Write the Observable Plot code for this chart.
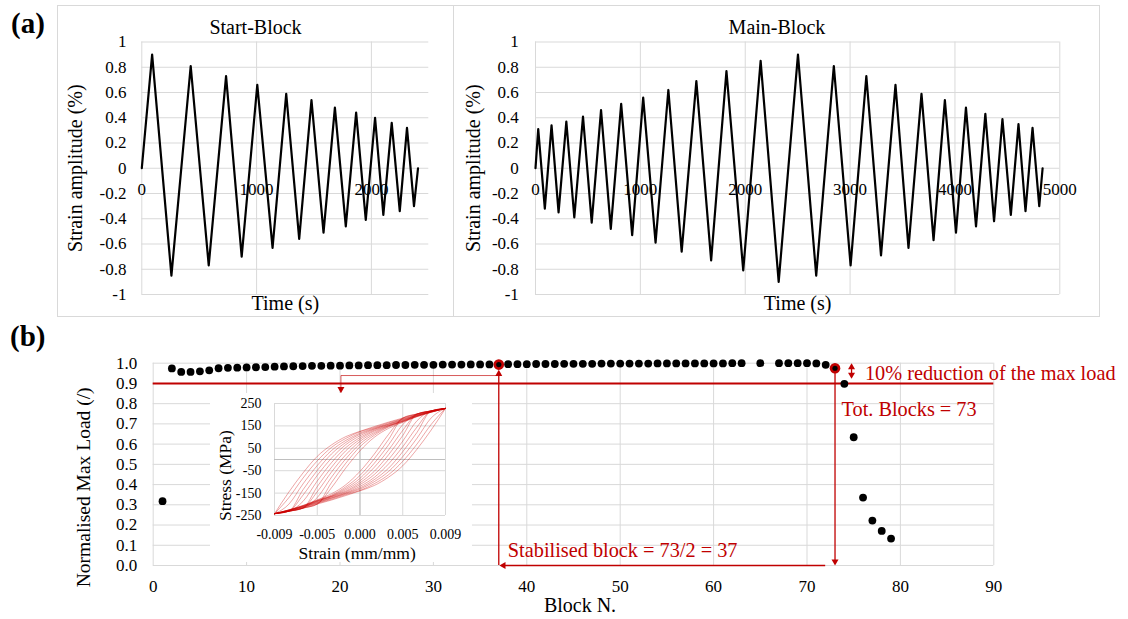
<!DOCTYPE html>
<html><head><meta charset="utf-8">
<script src="https://cdn.jsdelivr.net/npm/d3@7"></script>
<script src="https://cdn.jsdelivr.net/npm/@observablehq/plot@0.6"></script>
<style>
body{margin:0;background:#fff;}
#fig{position:relative;width:1128px;height:619px;overflow:hidden;font-family:"Liberation Serif","Times New Roman",serif;background:#fff;}
#fig > svg, #fig > div{position:absolute;}
#fig svg text{font-family:"Liberation Serif","Times New Roman",serif;}
.box{border:1px solid #d9d9d9;box-sizing:border-box;pointer-events:none;}
.plab{font-weight:bold;font-size:29px;line-height:28px;color:#000;}
</style></head><body><div id="fig"></div><script>
// ---------- Panel (a) data ----------
const startTime   = [0, 90, 258, 426, 583, 734, 870, 1006, 1139, 1258, 1371, 1478, 1583, 1682, 1777, 1867, 1951, 2032, 2104, 2177, 2247, 2310, 2371, 2406];
const startStrain = [0, 0.90, -0.85, 0.81, -0.77, 0.73, -0.70, 0.66, -0.63, 0.59, -0.56, 0.54, -0.51, 0.48, -0.46, 0.44, -0.41, 0.40, -0.37, 0.36, -0.34, 0.32, -0.30, 0];
const mainTime   = [0, 26, 89, 153, 220, 294, 370, 453, 536, 625, 718, 817, 922, 1027, 1145, 1267, 1394, 1534, 1675, 1821, 1981, 2147, 2319, 2503, 2677, 2845, 3005, 3155, 3295, 3433, 3557, 3681, 3796, 3904, 4010, 4105, 4201, 4290, 4373, 4453, 4533, 4606, 4673, 4740, 4804, 4836];
const mainStrain = [0, 0.31, -0.32, 0.34, -0.35, 0.37, -0.39, 0.41, -0.43, 0.46, -0.48, 0.51, -0.53, 0.56, -0.59, 0.62, -0.66, 0.69, -0.73, 0.77, -0.81, 0.85, -0.90, 0.90, -0.85, 0.81, -0.77, 0.73, -0.69, 0.66, -0.63, 0.59, -0.57, 0.54, -0.51, 0.48, -0.46, 0.43, -0.42, 0.39, -0.37, 0.35, -0.34, 0.32, -0.30, 0];
const strainTicks = [-1, -0.8, -0.6, -0.4, -0.2, 0, 0.2, 0.4, 0.6, 0.8, 1];
const startTimeTicks = [0, 1000, 2000];
const mainTimeTicks = [0, 1000, 2000, 3000, 4000, 5000];

// ---------- Panel (b) data ----------
const blockNo = [1,2,3,4,5,6,7,8,9,10,11,12,13,14,15,16,17,18,19,20,21,22,23,24,25,26,27,28,29,30,31,32,33,34,35,36,37,38,39,40,41,42,43,44,45,46,47,48,49,50,51,52,53,54,55,56,57,58,59,60,61,62,63,65,67,68,69,70,71,72,73,74,75,76,77,78,79];
const maxLoad = [0.318,0.974,0.957,0.957,0.960,0.965,0.975,0.977,0.978,0.979,0.980,0.981,0.983,0.984,0.985,0.986,0.987,0.987,0.988,0.988,0.989,0.989,0.990,0.990,0.990,0.991,0.991,0.992,0.992,0.992,0.993,0.993,0.993,0.994,0.994,0.994,0.993,0.995,0.995,0.995,0.996,0.996,0.996,0.997,0.997,0.997,0.997,0.998,0.998,0.998,0.998,0.998,0.998,0.999,0.999,0.999,0.999,0.999,0.999,0.999,0.999,1.000,1.000,1.000,1.000,1.000,1.000,1.000,0.999,0.992,0.975,0.898,0.634,0.336,0.222,0.171,0.133];
const loadTicks = [0, 0.1, 0.2, 0.3, 0.4, 0.5, 0.6, 0.7, 0.8, 0.9, 1.0];
const blockTicks = [0, 10, 20, 30, 40, 50, 60, 70, 80, 90];
const threshold = 0.9;
const totalBlocks = 73;
const stabilisedBlock = 37;

// ---------- Inset (hysteresis loops) ----------
const inStrain = [-0.009, -0.0075, -0.006, -0.0045, -0.003, -0.0015, 0, 0.0015, 0.003, 0.0045, 0.006, 0.0075, 0.009];
const inStrainTicks = [-0.009, -0.0045, 0, 0.0045, 0.009];
const inStrainLabels = ["-0.009", "-0.005", "0.000", "0.005", "0.009"];
const inStressTicks = [-250, -150, -50, 50, 150, 250];
const loopUp = [
  [-242,-146,-60,14,65,102,126,147,167,185,203,217,228],
  [-242,-171,-83,-6,54,94,124,143,164,182,201,216,228],
  [-242,-200,-109,-27,40,85,118,140,160,180,199,215,228],
  [-242,-231,-135,-49,25,76,113,137,158,178,198,214,228],
  [-242,-231,-159,-71,6,66,106,135,156,176,197,214,228],
  [-242,-231,-187,-96,-14,53,98,131,153,174,196,213,228],
  [-242,-231,-217,-121,-35,39,90,127,151,172,195,213,228],
  [-242,-231,-217,-144,-56,21,81,121,150,171,194,212,228],
  [-242,-231,-217,-170,-79,3,70,115,148,170,193,212,228],
  [-242,-231,-217,-199,-103,-17,57,108,145,168,192,211,228],
  [-242,-231,-217,-199,-126,-38,39,99,139,166,191,211,228]
];
const loopDown = [
  [-242,-231,-217,-199,-181,-161,-140,-116,-79,-28,46,132,228],
  [-242,-230,-215,-196,-178,-157,-138,-108,-68,-8,69,157,228],
  [-242,-229,-213,-194,-174,-154,-132,-99,-54,13,95,186,228],
  [-242,-228,-212,-192,-172,-151,-127,-90,-39,35,121,217,228],
  [-242,-228,-211,-190,-170,-149,-120,-80,-20,57,145,217,228],
  [-242,-227,-210,-188,-167,-145,-112,-67,0,82,173,217,228],
  [-242,-227,-209,-186,-165,-141,-104,-53,21,107,203,217,228],
  [-242,-226,-208,-185,-164,-135,-95,-35,42,130,203,217,228],
  [-242,-226,-207,-184,-162,-129,-84,-17,65,156,203,217,228],
  [-242,-225,-206,-182,-159,-122,-71,3,89,185,203,217,228],
  [-242,-225,-205,-180,-153,-113,-53,24,112,185,203,217,228]
];

// ---------- styling ----------
const serif = '"Liberation Serif", "Times New Roman", serif';
const RED = "#c00000";
const GRID = "#d9d9d9";
const fig = document.getElementById("fig");
const fmtStrain = d => (Math.abs(d) < 1e-9 ? "0" : String(+d.toFixed(1)));
const T = (o) => ({lineAnchor: "middle", fontFamily: serif, fill: "black", ...o});

function place(el, left, top) { el.style.left = left + "px"; el.style.top = top + "px"; fig.appendChild(el); return el; }

function strainChart(times, strains, xmax, timeTicks, gridTicks, title, o) {
  const data = times.map((t, i) => ({t, v: strains[i]}));
  return Plot.plot({
    width: o.w, height: 312,
    marginLeft: o.ml, marginRight: o.mr, marginTop: 36.5, marginBottom: 23,
    style: {fontFamily: serif, fontSize: "17px", background: "transparent", color: "black", overflow: "visible"},
    x: {domain: [0, xmax], axis: null},
    y: {domain: [-1, 1], axis: null},
    marks: [
      Plot.gridY(strainTicks, {stroke: GRID, strokeOpacity: 1}),
      Plot.gridX(gridTicks, {stroke: GRID, strokeOpacity: 1}),
      Plot.text(strainTicks, T({y: d => d, frameAnchor: "left", dx: o.pad, textAnchor: "end", text: fmtStrain, fontSize: 17})),
      Plot.text(timeTicks, T({x: d => d, y: d => 0, dy: 21.6, text: d => String(d), fontSize: 17})),
      Plot.line(data, {x: "t", y: "v", stroke: "black", strokeWidth: 2.2}),
      Plot.text([title], T({frameAnchor: "top", textAnchor: "middle", dx: o.tdx, dy: -14.8, fontSize: 20})),
      Plot.text(["Strain amplitude (%)"], T({frameAnchor: "left", textAnchor: "middle", rotate: -90, dx: o.ydx, fontSize: 20})),
      Plot.text(["Time (s)"], T({frameAnchor: "bottom", textAnchor: "middle", dy: 9.5, fontSize: 20}))
    ]
  });
}

place(strainChart(startTime, startStrain, 2500, startTimeTicks, [0, 1000, 2000], "Start-Block",
  {w: 396, ml: 84.3, mr: 24.7, pad: -15.3, tdx: -29.8, ydx: -66.3}), 57, 5);
place(strainChart(mainTime, mainStrain, 5000, mainTimeTicks, [0, 1000, 2000, 3000, 4000, 5000], "Main-Block",
  {w: 647, ml: 82, mr: 40.7, pad: -16.7, tdx: -20.7, ydx: -61.7}), 453, 5);

// ---------- Panel (b) ----------
const blockData = blockNo.map((b, i) => ({b, v: maxLoad[i]}));
const marked = blockData.filter(d => d.b === stabilisedBlock || d.b === totalBlocks);
const head = {symbol: "triangle", r: 2.6, fill: RED};
const plotB = Plot.plot({
  width: 1128, height: 299,
  marginLeft: 152.7, marginRight: 134.7, marginTop: 42.7, marginBottom: 54,
  style: {fontFamily: serif, fontSize: "17px", background: "white", color: "black", overflow: "visible"},
  x: {domain: [0, 90], axis: null},
  y: {domain: [0, 1], axis: null},
  marks: [
    Plot.gridY(loadTicks.filter(d => d > 0), {stroke: GRID, strokeOpacity: 1}),
    Plot.gridX(blockTicks, {stroke: GRID, strokeOpacity: 1}),
    Plot.ruleY([0], {stroke: GRID}),
    Plot.text(loadTicks, T({y: d => d, frameAnchor: "left", dx: -16, textAnchor: "end", text: d => d.toFixed(1), fontSize: 17})),
    Plot.text(blockTicks, T({x: d => d, frameAnchor: "bottom", textAnchor: "middle", dy: 20.7, text: d => String(d), fontSize: 17})),
    Plot.text(["Normalised Max Load (/)"], T({frameAnchor: "left", textAnchor: "middle", rotate: -90, dx: -69.4, dy: 23, fontSize: 19.5})),
    Plot.text(["Block N."], T({frameAnchor: "bottom", textAnchor: "middle", dx: 6.5, dy: 40, fontSize: 20})),
    Plot.ruleY([threshold], {stroke: RED, strokeWidth: 2}),
    // annotation connectors
    Plot.ruleX([stabilisedBlock], {y1: 0, y2: 0.955, stroke: RED, strokeWidth: 1.3}),
    Plot.line([{b: stabilisedBlock, v: 0.939}, {b: 20.1, v: 0.939}, {b: 20.1, v: 0.87}], {x: "b", y: "v", stroke: RED, strokeWidth: 1, strokeOpacity: 0.65}),
    Plot.ruleX([totalBlocks], {y1: 0.02, y2: 0.955, stroke: RED, strokeWidth: 1.3}),
    Plot.ruleY([0], {x1: 37.6, x2: 72, stroke: RED, strokeWidth: 1.3}),
    Plot.ruleX([74.77], {y1: 0.93, y2: 0.99, stroke: RED, strokeWidth: 1.3}),
    // arrow heads (tip placed at the data point)
    Plot.dot([{b: stabilisedBlock, v: 0.967}, {b: 74.77, v: 1.0}], {x: "b", y: "v", ...head, rotate: 0, dy: 4.04}),
    Plot.dot([{b: 20.1, v: 0.852}, {b: totalBlocks, v: 0}, {b: 74.77, v: 0.923}], {x: "b", y: "v", ...head, rotate: 180, dy: -4.04}),
    Plot.dot([{b: 37.07, v: 0}], {x: "b", y: "v", ...head, rotate: -90, dx: 4.04}),
    // data
    Plot.dot(blockData, {x: "b", y: "v", r: 3.9, fill: "black"}),
    Plot.dot(marked, {x: "b", y: "v", r: 5.3, fill: RED}),
    Plot.dot(marked, {x: "b", y: "v", r: 2.6, fill: "black"}),
    // annotation texts
    Plot.text(["10% reduction of the max load"], T({x: d => 76.2, y: d => 0.948, textAnchor: "start", fontSize: 20.3, fill: RED})),
    Plot.text(["Tot. Blocks = 73"], T({x: d => 73.7, y: d => 0.770, textAnchor: "start", fontSize: 20.3, fill: RED})),
    Plot.text(["Stabilised block = 73/2 = 37"], T({x: d => 37.97, y: d => 0.074, textAnchor: "start", fontSize: 20.3, fill: RED}))
  ]
});
place(plotB, 0, 320);

// ---------- Inset ----------
const loopRows = [];
loopUp.forEach((arr, k) => arr.forEach((s, i) => loopRows.push({k: "u" + k, e: inStrain[i], s})));
loopDown.forEach((arr, k) => arr.forEach((s, i) => loopRows.push({k: "d" + k, e: inStrain[i], s})));
const inset = Plot.plot({
  width: 262, height: 169,
  marginLeft: 64, marginRight: 27, marginTop: 10, marginBottom: 47,
  style: {fontFamily: serif, fontSize: "14px", background: "white", color: "black", overflow: "visible"},
  x: {domain: [-0.009, 0.009], axis: null},
  y: {domain: [-250, 250], axis: null},
  marks: [
    Plot.gridX(inStrainTicks, {stroke: GRID, strokeOpacity: 1}),
    Plot.gridY(inStressTicks, {stroke: GRID, strokeOpacity: 1}),
    Plot.ruleX([0], {stroke: "#bfbfbf"}),
    Plot.ruleY([0], {stroke: "#bfbfbf"}),
    Plot.line(loopRows, {x: "e", y: "s", z: "k", curve: "monotone-x", stroke: "#cc0000", strokeWidth: 0.7, strokeOpacity: 0.5}),
    Plot.text(inStressTicks, T({y: d => d, frameAnchor: "left", dx: -13, textAnchor: "end", text: d => String(d), fontSize: 14})),
    Plot.text(inStrainTicks, T({x: d => d, frameAnchor: "bottom", textAnchor: "middle", dy: 19, text: (d, i) => inStrainLabels[i], fontSize: 14})),
    Plot.text(["Strain (mm/mm)"], T({frameAnchor: "bottom", textAnchor: "middle", dx: -2.8, dy: 38.3, fontSize: 17.5})),
    Plot.text(["Stress (MPa)"], T({frameAnchor: "left", textAnchor: "middle", rotate: -90, dx: -49, dy: 16, fontSize: 17.5}))
  ]
});
place(inset, 210, 393);

// ---------- frames and panel labels ----------
const b1 = document.createElement("div"); b1.className = "box"; b1.style.width = "397px"; b1.style.height = "312px"; place(b1, 57, 5);
const b2 = document.createElement("div"); b2.className = "box"; b2.style.width = "647px"; b2.style.height = "312px"; place(b2, 453, 5);
const la = document.createElement("div"); la.className = "plab"; la.textContent = "(a)"; place(la, 11, 8.5);
const lb = document.createElement("div"); lb.className = "plab"; lb.textContent = "(b)"; place(lb, 10, 322);
</script></body></html>
